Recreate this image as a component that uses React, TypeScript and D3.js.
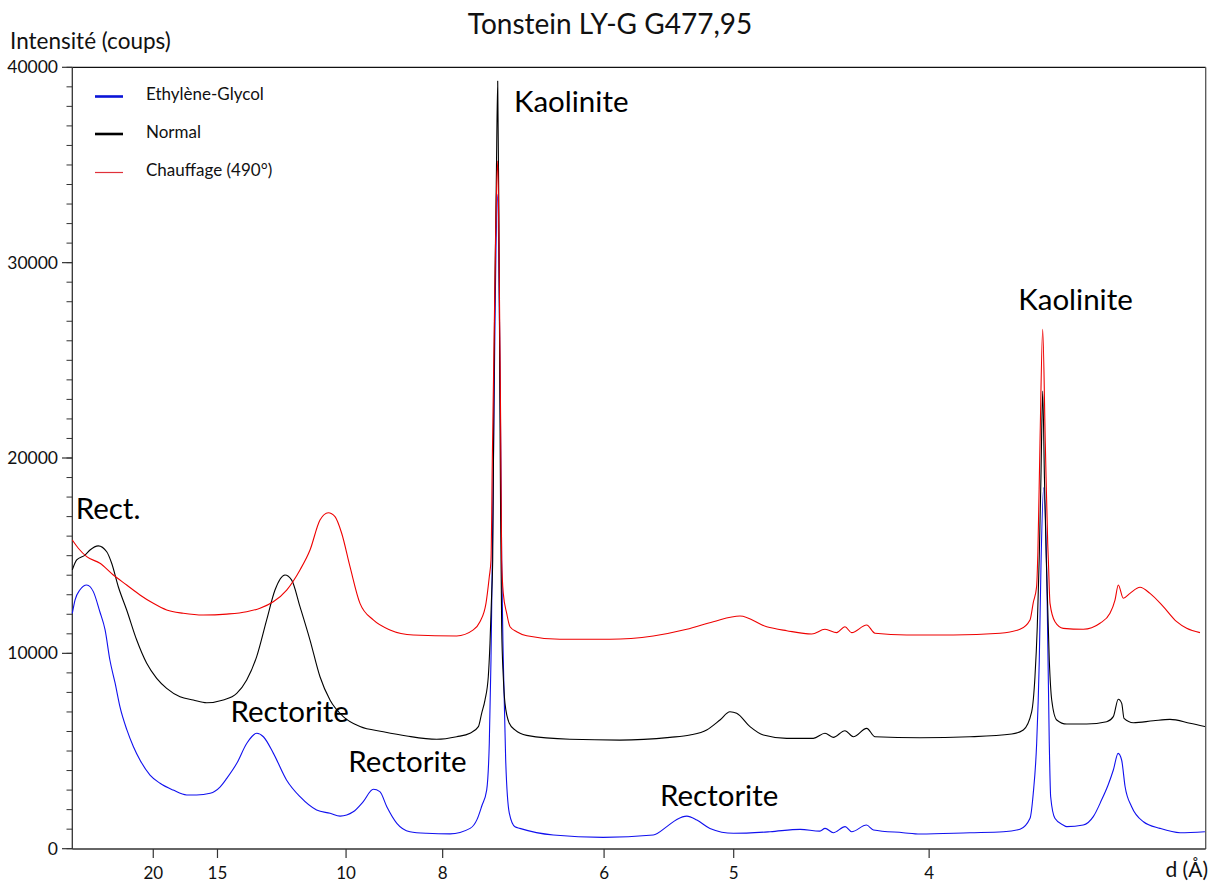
import React from "react";
import * as d3 from "d3";

// X values are 2θ (degrees, Cu Kα); axis labelled in d (Å)
const LAMBDA = 1.5406;
const dTicks = [20, 15, 10, 8, 6, 5, 4];
const yTicks = [0, 10000, 20000, 30000, 40000];
const yMinorStep = 1000;

const title = "Tonstein LY-G G477,95";
const yTitle = "Intensité (coups)";
const xTitle = "d (Å)";

const seriesNames = ["Ethylène-Glycol", "Normal", "Chauffage (490°)"];

const glycol: [number, number][] = [
  [2.558, 12050], [2.62, 12730], [2.73, 13240], [2.89, 13500], [3.04, 13160], [3.19, 12130],
  [3.31, 11200], [3.42, 9660], [3.54, 8470], [3.65, 7270], [3.81, 6080], [3.96, 5220],
  [4.11, 4540], [4.34, 3770], [4.57, 3350], [4.87, 3000], [5.18, 2750], [5.41, 2750],
  [5.72, 2840], [5.95, 3170], [6.10, 3600], [6.33, 4370], [6.56, 5400], [6.79, 5910],
  [6.94, 5730], [7.17, 4880], [7.47, 3520], [7.78, 2660], [8.16, 1980], [8.47, 1810],
  [8.70, 1670], [9.00, 1890], [9.23, 2410], [9.46, 3040], [9.61, 2920], [9.77, 2150],
  [10.00, 1300], [10.30, 870], [10.68, 790], [11.22, 760], [11.68, 1040], [11.84, 1500],
  [11.95, 2200], [12.06, 3000], [12.12, 5400], [12.159, 9660], [12.189, 14780], [12.216, 20000],
  [12.251, 27000], [12.308, 33500], [12.354, 27000], [12.384, 20000], [12.404, 14780], [12.441, 9660],
  [12.496, 4540], [12.579, 1820], [12.709, 1120], [12.82, 1040], [13.59, 700], [14.73, 580],
  [15.88, 700], [16.19, 1130], [16.42, 1500], [16.65, 1670], [16.88, 1470], [17.18, 1040],
  [17.72, 790], [18.56, 870], [19.25, 990], [19.70, 900], [19.82, 1040], [20.01, 820],
  [20.28, 1130], [20.43, 870], [20.77, 1210], [20.93, 960], [21.61, 820], [22.00, 750],
  [23.14, 820], [23.91, 870], [24.29, 1000], [24.52, 1560], [24.594, 2840], [24.672, 5400],
  [24.732, 9660], [24.771, 14500], [24.833, 18480], [24.904, 14000], [24.961, 5400], [24.993, 2660],
  [25.09, 1560], [25.28, 1210], [25.36, 1130], [25.74, 1210], [25.97, 1640], [26.16, 2490],
  [26.31, 3260], [26.43, 4030], [26.54, 4880], [26.62, 4540], [26.70, 3170], [26.85, 2150],
  [27.12, 1380], [27.50, 1040], [27.96, 820], [28.53, 870],
];

const normal: [number, number][] = [
  [2.558, 14270], [2.659, 14780], [2.849, 15030], [2.964, 15290], [3.154, 15500], [3.347, 15200],
  [3.461, 14610], [3.613, 13410], [3.805, 12220], [4.035, 10680], [4.264, 9490], [4.493, 8720],
  [4.722, 8210], [5.028, 7780], [5.332, 7610], [5.64, 7470], [6.02, 7610], [6.328, 7950],
  [6.557, 8640], [6.786, 9830], [7.015, 11710], [7.206, 13240], [7.435, 14010], [7.589, 13750],
  [7.779, 12390], [8.009, 10680], [8.238, 8800], [8.467, 7610], [8.772, 6760], [9.155, 6250],
  [9.69, 5990], [10.226, 5770], [10.913, 5600], [11.372, 5730], [11.677, 5910], [11.87, 6250],
  [11.945, 6930], [12.021, 7610], [12.097, 8800], [12.136, 10510], [12.175, 13070], [12.198, 14780],
  [12.216, 20000], [12.24, 27000], [12.28, 34000], [12.313, 39300], [12.342, 32000], [12.36, 24000],
  [12.38, 17000], [12.404, 11360], [12.441, 8800], [12.48, 7440], [12.579, 6420], [12.709, 6080],
  [12.978, 5800], [13.969, 5600], [15.116, 5560], [16.262, 5700], [16.722, 5820], [17.105, 6080],
  [17.41, 6590], [17.639, 7010], [17.793, 6930], [18.098, 6250], [18.404, 5820], [18.94, 5650],
  [19.551, 5650], [19.818, 5910], [20.008, 5700], [20.276, 6040], [20.467, 5730], [20.774, 6160],
  [20.965, 5730], [21.996, 5680], [23.143, 5730], [24.1, 5870], [24.365, 6080], [24.557, 7010],
  [24.633, 8800], [24.686, 11360], [24.732, 15000], [24.77, 19000], [24.81, 23430], [24.85, 19000],
  [24.89, 15000], [24.961, 9660], [25.017, 7610], [25.131, 6590], [25.36, 6380], [25.819, 6380],
  [26.277, 6500], [26.429, 6760], [26.544, 7650], [26.622, 7440], [26.675, 6670], [26.888, 6450],
  [27.347, 6550], [27.729, 6620], [28.187, 6420], [28.531, 6250],
];

const heated: [number, number][] = [
  [2.558, 15800], [2.696, 15380], [2.888, 14950], [3.193, 14610], [3.498, 14010], [3.805, 13500],
  [4.11, 12990], [4.415, 12560], [4.722, 12220], [5.103, 12050], [5.562, 11960], [6.098, 12010],
  [6.557, 12130], [6.862, 12310], [7.167, 12640], [7.474, 13240], [7.779, 14270], [8.009, 15290],
  [8.238, 16830], [8.428, 17200], [8.582, 17000], [8.735, 16150], [8.926, 14440], [9.155, 12560],
  [9.46, 11710], [9.843, 11200], [10.377, 10940], [11.372, 10890], [11.753, 11200], [11.906, 11620],
  [12.044, 12560], [12.12, 13920], [12.159, 14780], [12.19, 20000], [12.23, 26000], [12.27, 32000],
  [12.313, 35220], [12.35, 29000], [12.38, 22000], [12.404, 14780], [12.441, 13070], [12.519, 12050],
  [12.595, 11360], [12.748, 11110], [12.978, 10900], [13.741, 10720], [14.887, 10720], [15.88, 10890],
  [16.647, 11230], [17.256, 11620], [17.869, 11910], [18.482, 11360], [18.94, 11160], [19.514, 10990],
  [19.818, 11230], [20.086, 11060], [20.276, 11360], [20.43, 11060], [20.774, 11450], [20.965, 11030],
  [21.692, 10940], [22.761, 10940], [23.832, 11030], [24.289, 11230], [24.519, 11710], [24.594, 12600],
  [24.67, 13400], [24.70, 15200], [24.748, 20750], [24.81, 26590], [24.87, 20750], [24.925, 15630],
  [24.94, 14780], [24.978, 12560], [25.092, 11620], [25.282, 11280], [25.741, 11230], [26.124, 11540],
  [26.353, 12050], [26.468, 12730], [26.544, 13500], [26.659, 12820], [26.812, 13070], [27.042, 13380],
  [27.271, 13070], [27.576, 12390], [27.883, 11620], [28.112, 11280], [28.417, 11060],
];

// annotations: [text, 2θ position of left edge, intensity at text baseline]
const annotations: [string, number, number][] = [
  ["Kaolinite", 12.686, 37730],
  ["Kaolinite", 24.25, 27580],
  ["Rect.", 2.636, 16880],
  ["Rectorite", 6.186, 6470],
  ["Rectorite", 8.887, 3910],
  ["Rectorite", 16.034, 2190],
];

const W = 1211;
const H = 884;
const FONT = "Lato, 'Open Sans', sans-serif";

const toTwoTheta = (d: number) => (2 * Math.asin(LAMBDA / (2 * d)) * 180) / Math.PI;

export default function App() {
  const x = d3.scaleLinear().domain([2.558, 28.548]).range([72.3, 1205.7]);
  const y = d3.scaleLinear().domain([0, 40000]).range([848.7, 67.3]);
  const line = d3
    .line<[number, number]>()
    .x((p) => x(p[0]))
    .y((p) => y(p[1]))
    .curve(d3.curveMonotoneX);

  const minor = d3.range(0, 40001, yMinorStep);
  const axisColor = "#333";

  const series = [
    { data: glycol, color: "#1010ee", legendColor: "#0a14d8", lw: 2.6 },
    { data: normal, color: "#000000", legendColor: "#000", lw: 2.6 },
    { data: heated, color: "#ee0000", legendColor: "#e0303a", lw: 1.2 },
  ];

  return (
    <svg
      width={W}
      height={H}
      style={{ position: "absolute", left: 0, top: 0, display: "block", background: "#fff" }}
      fontFamily={FONT}
    >
      <rect width={W} height={H} fill="#fff" />
      <text x={610} y={34} fontSize={28} textAnchor="middle" fill="#111">
        {title}
      </text>
      <text x={10} y={49} fontSize={22.5} fill="#111">
        {yTitle}
      </text>
      <text x={1208} y={877} fontSize={21} textAnchor="end" fill="#111">
        {xTitle}
      </text>

      {/* frame */}
      <line x1={72.3} x2={1205.7} y1={67.3} y2={67.3} stroke="#111" strokeWidth={1.3} />
      <line x1={1205.7} x2={1205.7} y1={67.3} y2={849} stroke="#555" strokeWidth={1.3} />
      <line x1={72.3} x2={1205.7} y1={849} y2={849} stroke={axisColor} strokeWidth={1.3} />
      <line x1={72.3} x2={72.3} y1={67.3} y2={849} stroke={axisColor} strokeWidth={1.3} />

      {/* y ticks */}
      {minor.map((v) => (
        <line key={"m" + v} x1={66.5} x2={72.3} y1={y(v)} y2={y(v)} stroke={axisColor} strokeWidth={1} />
      ))}
      {yTicks.map((v) => (
        <g key={"y" + v}>
          <line x1={62} x2={72.3} y1={y(v)} y2={y(v)} stroke={axisColor} strokeWidth={1.2} />
          <text x={58} y={y(v)} dy="0.35em" fontSize={17.5} textAnchor="end" fill="#111">
            {v}
          </text>
        </g>
      ))}

      {/* x ticks (d in Å) */}
      {dTicks.map((d) => {
        const px = x(toTwoTheta(d));
        return (
          <g key={"x" + d}>
            <line x1={px} x2={px} y1={849} y2={858} stroke={axisColor} strokeWidth={1.2} />
            <text x={px} y={879} fontSize={17} textAnchor="middle" fill="#111">
              {d}
            </text>
          </g>
        );
      })}

      {/* curves */}
      <g fill="none" strokeWidth={1.1} strokeLinejoin="round">
        {series.map((s, i) => (
          <path key={i} d={line(s.data) || ""} stroke={s.color} />
        ))}
      </g>

      {/* legend */}
      {series.map((s, i) => {
        const ly = [96.5, 134, 172.5][i];
        return (
          <g key={"l" + i}>
            <line x1={95} x2={123} y1={ly} y2={ly} stroke={s.legendColor} strokeWidth={s.lw} />
            <text x={146} y={ly - 2} dy="0.35em" fontSize={17} fill="#111">
              {seriesNames[i]}
            </text>
          </g>
        );
      })}

      {/* annotations */}
      {annotations.map(([t, tt, v], i) => (
        <text key={"a" + i} x={x(tt)} y={y(v)} fontSize={29.5} fill="#000">
          {t}
        </text>
      ))}
    </svg>
  );
}
